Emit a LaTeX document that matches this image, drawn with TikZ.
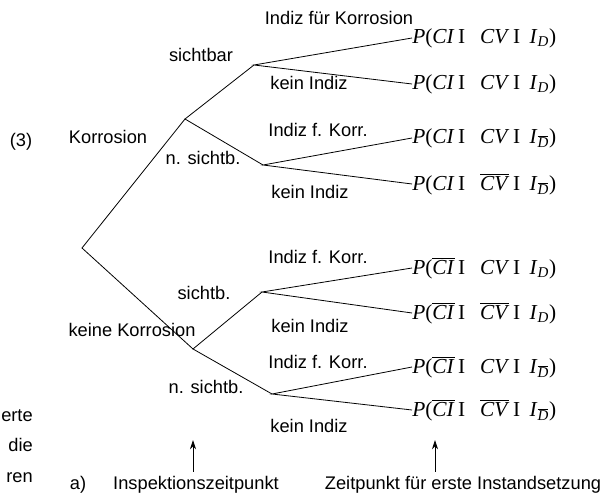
\documentclass[tikz,border=0pt]{standalone}
\usepackage{fontspec}
\setmainfont{Liberation Sans}
\newfontfamily\tmsfont{Liberation Serif}
\usetikzlibrary{arrows.meta}

% overlined piece of a leaf term
\newcommand{\ovl}[1]{$\overline{\hbox{#1}}$}
% leaf term P(a I b I I_c)
\newcommand{\pleaf}[3]{\textit{P}(#1\,I\hspace{0.7em}#2\,I\hspace{0.45em}\textit{I}\textsubscript{#3})}

\begin{document}
\begin{tikzpicture}[x=0.75pt, y=-0.75pt,
    lbl/.style={font=\fontsize{13.7}{16}\selectfont, inner sep=0pt, text height=9.8pt, text depth=0pt},
    leaf/.style={font=\tmsfont\fontsize{16}{19}\selectfont, anchor=west, inner sep=0pt},
    branch/.style={line width=0.6pt},
    timemark/.style={-{Stealth[length=7pt,width=4.5pt]}, line width=0.6pt}]
    \useasboundingbox (0,0) rectangle (604,495);
    % junctions of the tree
    \coordinate (root)  at (82,248);
    \coordinate (korr)  at (185,119);
    \coordinate (nkorr) at (193,349);
    \coordinate (ksi)   at (254,65);
    \coordinate (knsi)  at (263,165);
    \coordinate (nsi)   at (262,292);
    \coordinate (nnsi)  at (272,394);
    % leaves
    \node[leaf] (l1) at (412,38)  {\pleaf{\textit{CI}}{\textit{CV}}{\textit{D}}};
    \node[leaf] (l2) at (412,84)  {\pleaf{\textit{CI}}{\textit{CV}}{\textit{D}}};
    \node[leaf] (l3) at (412,138) {\pleaf{\textit{CI}}{\textit{CV}}{\ovl{\textit{D}}}};
    \node[leaf] (l4) at (412,184) {\pleaf{\textit{CI}}{\ovl{\textit{CV}}}{\ovl{\textit{D}}}};
    \node[leaf] (l5) at (412,268) {\pleaf{\ovl{\textit{CI}}}{\textit{CV}}{\textit{D}}};
    \node[leaf] (l6) at (412,313) {\pleaf{\ovl{\textit{CI}}}{\ovl{\textit{CV}}}{\textit{D}}};
    \node[leaf] (l7) at (412,367) {\pleaf{\ovl{\textit{CI}}}{\textit{CV}}{\ovl{\textit{D}}}};
    \node[leaf] (l8) at (412,410) {\pleaf{\ovl{\textit{CI}}}{\ovl{\textit{CV}}}{\ovl{\textit{D}}}};
    % branches
    \draw[branch] (korr) -- (root) -- (nkorr);
    \draw[branch] (ksi) -- (korr) -- (knsi);
    \draw[branch] (nsi) -- (nkorr) -- (nnsi);
    \draw[branch] (l1.west) -- (ksi) -- (l2.west);
    \draw[branch] (l3.west) -- (knsi) -- (l4.west);
    \draw[branch] (l5.west) -- (nsi) -- (l6.west);
    \draw[branch] (l7.west) -- (nnsi) -- (l8.west);
    % branch labels
    \node[lbl] (num)   at (21,140)  {(3)};
    \node[lbl] (tk)    at (108,137) {Korrosion};
    \node[lbl] (tnk)   at (132,330) {keine Korrosion};
    \node[lbl] (tksi)  at (201,55)  {sichtbar};
    \node[lbl] (tknsi) at (203,158) {n. sichtb.};
    \node[lbl] (tnsi)  at (204,293) {sichtb.};
    \node[lbl] (tnnsi) at (206,387) {n. sichtb.};
    \node[lbl] (i1) at (339,18)  {Indiz für Korrosion};
    \node[lbl] (k1) at (309,83)  {kein Indiz};
    \node[lbl] (i2) at (318,130) {Indiz f. Korr.};
    \node[lbl] (k2) at (310,192) {kein Indiz};
    \node[lbl] (i3) at (318,257) {Indiz f. Korr.};
    \node[lbl] (k3) at (310,326) {kein Indiz};
    \node[lbl] (i4) at (318,362) {Indiz f. Korr.};
    \node[lbl] (k4) at (309,426) {kein Indiz};
    % points in time
    \node[lbl] (suba) at (78,483)  {a)};
    \node[lbl] (insp) at (196,483) {Inspektionszeitpunkt};
    \node[lbl] (inst) at (463,483) {Zeitpunkt für erste Instandsetzung};
    \coordinate (inspfoot) at (193,472);
    \coordinate (insptip)  at (193,440);
    \coordinate (instfoot) at (435,472);
    \coordinate (insttip)  at (435,440);
    \draw[timemark] (inspfoot) -- (insptip);
    \draw[timemark] (instfoot) -- (insttip);
    % cut off words of the page text
    \node[lbl, anchor=east] (w1) at (33,415) {erte};
    \node[lbl, anchor=east] (w2) at (33,445) {die};
    \node[lbl, anchor=east] (w3) at (33,476) {ren};
\end{tikzpicture}
\end{document}
